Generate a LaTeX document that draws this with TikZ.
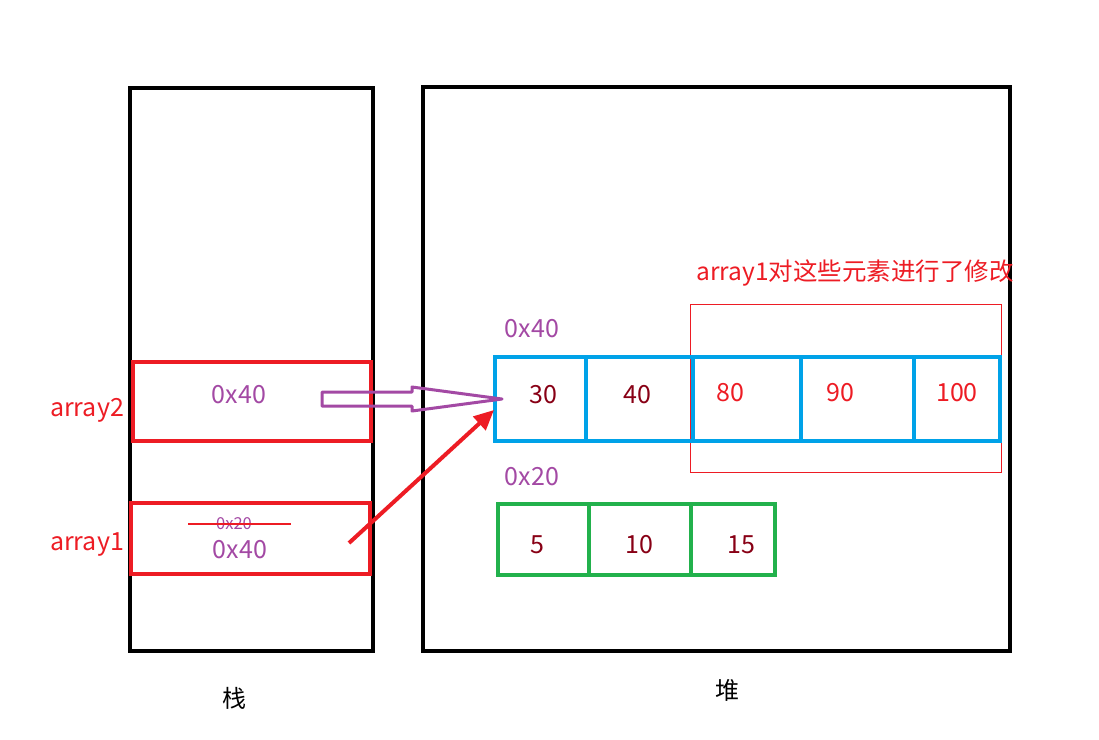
\documentclass[tikz,border=0pt]{standalone}
\usepackage{fontspec}
\setmainfont{Noto Sans CJK SC}
\usetikzlibrary{arrows.meta,positioning,calc}
\definecolor{memred}{HTML}{ED1C24}
\definecolor{addr}{HTML}{A349A4}
\definecolor{cellblue}{HTML}{00A2E8}
\definecolor{cellgreen}{HTML}{22B14C}
\definecolor{valdark}{HTML}{880015}

\begin{document}
\begin{tikzpicture}[x=1pt,y=-1pt,
 area/.style={draw=black,line width=4pt,inner sep=0pt},
 slot/.style={draw=memred,line width=4pt,inner sep=0pt},
 bluecell/.style={draw=cellblue,line width=4.5pt,inner sep=0pt,minimum height=84pt},
 greencell/.style={draw=cellgreen,line width=4pt,inner sep=0pt,minimum height=71pt},
 txt/.style={font=\fontsize{25}{30}\selectfont,inner sep=0pt},
 addrtxt/.style={txt,text=addr},
 redtxt/.style={txt,text=memred},
 valtxt/.style={txt,text=valdark},
 hollow/.style={draw=addr,line width=3pt,line join=round},
 arrow/.style={-{Triangle[length=20pt,width=18pt]},line width=4pt,draw=memred}]
\useasboundingbox (0,0) rectangle (1099,739);
% stack and heap
\node[area,minimum width=243pt,minimum height=563pt] (stack) at (251.5,369.5) {};
\node[area,minimum width=587pt,minimum height=564pt] (heap) at (716.5,369) {};
\node[txt,text=black,font=\fontsize{24}{28}\selectfont] (stacklbl) at (234,698) {栈};
\node[txt,text=black,font=\fontsize{24}{28}\selectfont] (heaplbl) at (727,690) {堆};
% variables on the stack
\node[slot,minimum width=238pt,minimum height=79pt] (var2) at (252,401.5) {};
\node[slot,minimum width=239pt,minimum height=71pt] (var1) at (250.5,538.5) {};
\node[redtxt] (name2) at (87,410) {array2};
\node[redtxt] (name1) at (87,545) {array1};
\node[addrtxt] (ref2) at (239,395) {0x40};
\node[addrtxt,font=\fontsize{16.5}{20}\selectfont] (oldref) at (234,524) {0x20};
\node[addrtxt] (ref1) at (240,550) {0x40};
\draw[memred,line width=2.5pt] ([xshift=-46pt]oldref.center) -- ([xshift=57pt]oldref.center);
% region changed through array1
\node[draw=memred,line width=1pt,minimum width=311pt,minimum height=168pt] (changed) at (845.5,388) {};
\node[redtxt,font=\fontsize{24.5}{29}\selectfont] (note) at (855,273) {array1对这些元素进行了修改};
% array at 0x40
\node[addrtxt] (addr40) at (532,329) {0x40};
\node[bluecell,minimum width=91pt] (c30) at (540.5,399) {};
\node[bluecell,minimum width=107pt] (c40) at (639.5,399) {};
\node[bluecell,minimum width=108pt] (c80) at (747,399) {};
\node[bluecell,minimum width=113pt] (c90) at (857.5,399) {};
\node[bluecell,minimum width=86pt] (c100) at (957,399) {};
\node[valtxt] (v30) at (543,395) {30};
\node[valtxt] (v40) at (637,395) {40};
\node[redtxt] (v80) at (730,393) {80};
\node[redtxt] (v90) at (840,393) {90};
\node[redtxt] (v100) at (957,393) {100};
% array at 0x20
\node[addrtxt] (addr20) at (532,477) {0x20};
\node[greencell,minimum width=91pt] (c5) at (543.5,539.5) {};
\node[greencell,minimum width=102pt] (c10) at (640,539.5) {};
\node[greencell,minimum width=84pt] (c15) at (733,539.5) {};
\node[valtxt] (v5) at (537,545) {5};
\node[valtxt] (v10) at (639,545) {10};
\node[valtxt] (v15) at (741,545) {15};
% references
\coordinate (tail2) at (322,399);
\coordinate (tip2) at (502,399);
\draw[hollow] (tail2) ++(0,-7) -- ++(90,0) -- ++(0,-5) -- (tip2) -- ++(-90,12) -- ++(0,-5) -- ++(-90,0) -- cycle;
\coordinate (tail1) at (349,543);
\coordinate (tip1) at (494,410);
\draw[arrow] (tail1) -- (tip1);
\end{tikzpicture}
\end{document}
